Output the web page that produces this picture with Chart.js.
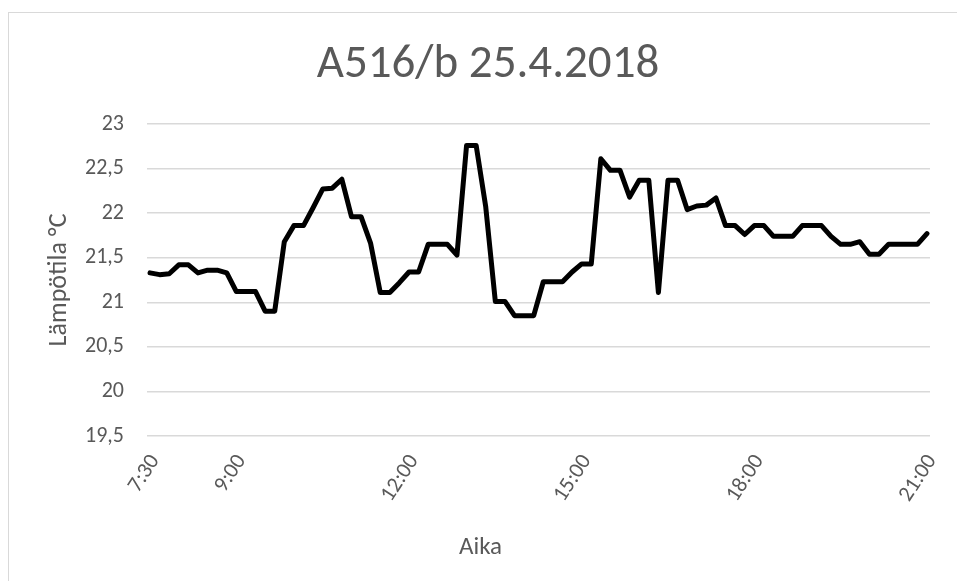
<!DOCTYPE html>
<html>
<head>
<meta charset="utf-8">
<script src="https://cdn.jsdelivr.net/npm/chart.js@4/dist/chart.umd.min.js"></script>
<style>
  html, body { margin: 0; padding: 0; background: #ffffff; overflow: hidden; }
  #wrap { position: relative; width: 957px; height: 581px; }
  #frame { position: absolute; left: 8px; top: 12px; width: 1200px; height: 1000px; border: 1px solid #d9d9d9; box-sizing: border-box; }
  canvas { position: absolute; left: 0; top: 0; }
</style>
</head>
<body>
<div id="wrap">
  <div id="frame"></div>
  <canvas id="c" width="957" height="581"></canvas>
</div>
<script>
const chartTitle = 'A516/b 25.4.2018';
const yAxisTitle = 'Lämpötila °C';
const xAxisTitle = 'Aika';

const times = ['7:30','7:40','7:50','8:00','8:10','8:20','8:30','8:40','8:50',
  '9:00','9:10','9:20','9:30','9:40','9:50','10:00','10:10','10:20','10:30','10:40','10:50',
  '11:00','11:10','11:20','11:30','11:40','11:50','12:00','12:10','12:20','12:30','12:40','12:50',
  '13:00','13:10','13:20','13:30','13:40','13:50','14:00','14:10','14:20','14:30','14:40','14:50',
  '15:00','15:10','15:20','15:30','15:40','15:50','16:00','16:10','16:20','16:30','16:40','16:50',
  '17:00','17:10','17:20','17:30','17:40','17:50','18:00','18:10','18:20','18:30','18:40','18:50',
  '19:00','19:10','19:20','19:30','19:40','19:50','20:00','20:10','20:20','20:30','20:40','20:50',
  '21:00'];

const temperatures = [21.33,21.31,21.32,21.42,21.42,21.33,21.36,21.36,21.33,
  21.12,21.12,21.12,20.90,20.90,21.68,21.86,21.86,22.06,22.27,22.28,22.38,
  21.96,21.96,21.66,21.11,21.11,21.22,21.34,21.34,21.65,21.65,21.65,21.53,
  22.76,22.76,22.07,21.01,21.01,20.85,20.85,20.85,21.23,21.23,21.23,21.34,
  21.43,21.43,22.61,22.48,22.48,22.18,22.37,22.37,21.11,22.37,22.37,22.04,
  22.08,22.09,22.17,21.86,21.86,21.76,21.86,21.86,21.74,21.74,21.74,21.86,
  21.86,21.86,21.74,21.65,21.65,21.68,21.54,21.54,21.65,21.65,21.65,21.65,
  21.77];

const xTickLabels = ['7:30','9:00','12:00','15:00','18:00','21:00'];
const yTickValues = [19.5, 20, 20.5, 21, 21.5, 22, 22.5, 23];

function toHours(t) { const p = t.split(':'); return Number(p[0]) + Number(p[1]) / 60; }

const points = times.map((t, i) => ({ x: toHours(t), y: temperatures[i] }));
const xTickHours = xTickLabels.map(toHours);
const xFirst = xTickHours[0], xLast = xTickHours[xTickHours.length - 1];
const xPad = (xLast - xFirst) * 0.0039;

const FONT = "Carlito, Lato, 'Open Sans', sans-serif";
const GREY = '#595959';

// x-axis title centred on the whole chart (as in the reference)
const xTitlePlugin = {
  id: 'xTitle',
  afterDraw(chart) {
    const ctx = chart.ctx;
    ctx.save();
    ctx.fillStyle = GREY;
    ctx.font = "25px " + FONT;
    ctx.textAlign = 'center';
    ctx.textBaseline = 'middle';
    ctx.fillText(xAxisTitle, chart.width / 2 + 2, chart.height - 33);
    ctx.restore();
  }
};

new Chart(document.getElementById('c'), {
  type: 'line',
  data: {
    datasets: [{
      data: points,
      borderColor: '#000000',
      borderWidth: 5,
      borderJoinStyle: 'round',
      borderCapStyle: 'round',
      pointRadius: 0,
      tension: 0,
      fill: false
    }]
  },
  plugins: [xTitlePlugin],
  options: {
    responsive: false,
    animation: false,
    devicePixelRatio: 1,
    layout: { padding: { left: 46, right: 27, top: 0, bottom: 0 } },
    plugins: {
      legend: { display: false },
      tooltip: { enabled: false },
      title: {
        display: true,
        text: chartTitle,
        color: GREY,
        font: { family: FONT, size: 47, weight: 'normal', lineHeight: 1.2 },
        padding: { top: 37, bottom: 30.6 }
      }
    },
    scales: {
      x: {
        type: 'linear',
        min: xFirst - xPad,
        max: xLast + xPad,
        afterBuildTicks: (s) => { s.ticks = xTickHours.map(v => ({ value: v })); },
        afterFit: (s) => { s.height = 145; s.paddingLeft = 0; s.paddingRight = 0; },
        grid: { display: false, drawTicks: false },
        border: { display: false },
        ticks: {
          autoSkip: false,
          minRotation: 57,
          maxRotation: 57,
          padding: 14,
          labelOffset: 5,
          color: GREY,
          font: { family: FONT, size: 22 },
          callback: (v) => { const i = xTickHours.indexOf(v); return i >= 0 ? xTickLabels[i] : ''; }
        },
        title: { display: false }
      },
      y: {
        min: yTickValues[0],
        max: yTickValues[yTickValues.length - 1],
        afterBuildTicks: (s) => { s.ticks = yTickValues.map(v => ({ value: v })); },
        afterFit: (s) => { s.width = 101; },
        grid: { color: '#d9d9d9', lineWidth: 1.5, drawTicks: false },
        border: { display: false },
        ticks: {
          padding: 23,
          color: GREY,
          font: { family: FONT, size: 22 },
          callback: (v) => String(v).replace('.', ',')
        },
        title: {
          display: true,
          text: yAxisTitle,
          color: GREY,
          font: { family: FONT, size: 26, lineHeight: 1 },
          padding: { top: 0, bottom: 0 }
        }
      }
    }
  }
});
</script>
</body>
</html>
